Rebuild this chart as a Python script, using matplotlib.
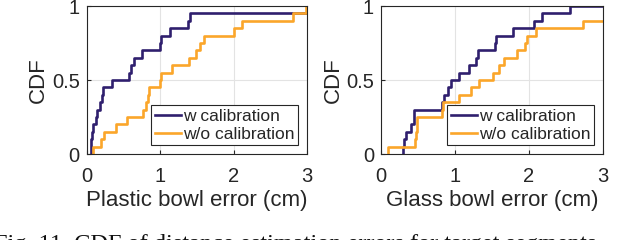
import numpy as np
import matplotlib
matplotlib.use("Agg")
import matplotlib.pyplot as plt

# Sorted error samples (cm); values > 3 lie beyond the visible axis range
plastic_w = [0.055, 0.06, 0.07, 0.09, 0.12, 0.14, 0.18, 0.21, 0.22, 0.34,
             0.57, 0.60, 0.64, 0.75, 1.00, 1.01, 1.14, 1.38, 1.40, 3.3]
plastic_wo = [0.09, 0.20, 0.24, 0.40, 0.55, 0.76, 0.81, 0.83, 0.85, 1.00,
              1.01, 1.16, 1.39, 1.49, 1.54, 1.60, 2.00, 2.12, 2.81, 2.99]
glass_w = [0.30, 0.31, 0.34, 0.41, 0.45, 0.45, 0.83, 0.85, 0.90, 0.94,
           1.06, 1.19, 1.29, 1.31, 1.54, 1.56, 1.79, 2.07, 2.18, 2.55]
glass_wo = [0.10, 0.46, 0.47, 0.48, 0.49, 0.83, 0.84, 1.05, 1.22, 1.33,
            1.52, 1.60, 1.66, 1.84, 1.95, 1.97, 2.10, 2.73, 3.3, 3.4]

xlabels = ["Plastic bowl error (cm)", "Glass bowl error (cm)"]
series_names = ["w calibration", "w/o calibration"]
xticks = [0, 1, 2, 3]
yticks = [0, 0.5, 1]
yticklabels = ["0", "0.5", "1"]

purple = "#2f1f6e"
orange = "#fba62a"

plt.rcParams['font.family'] = ['Liberation Sans', 'DejaVu Sans']

fig = plt.figure(figsize=(6.4, 2.4), dpi=100)
W, H = 640, 240
axes_px = [(86.7, 307), (381, 603)]
top, bottom = 6, 154

def cdf_xy(vals):
    v = np.sort(np.asarray(vals, float))
    n = len(v)
    x = np.concatenate([[v[0]], v, [v[-1] + 5]])
    y = np.concatenate([[0], np.arange(1, n + 1) / n, [1]])
    return x, y

data = [(plastic_w, plastic_wo), (glass_w, glass_wo)]
for i, ((l, r), (dw, dwo)) in enumerate(zip(axes_px, data)):
    ax = fig.add_axes([l / W, 1 - bottom / H, (r - l) / W, (bottom - top) / H])
    for vals, c, name in [(dw, purple, series_names[0]), (dwo, orange, series_names[1])]:
        x, y = cdf_xy(vals)
        ax.step(x, y, where='post', color=c, lw=1.9, label=name)
    ax.set_xlim(0, 3)
    ax.set_ylim(0, 1)
    ax.set_xticks(xticks)
    ax.set_yticks(yticks)
    ax.set_yticklabels(yticklabels)
    ax.grid(True, color='#e3e3e3', lw=0.8)
    ax.set_axisbelow(True)
    for s in ax.spines.values():
        s.set_color('#262626')
        s.set_linewidth(0.8)
    ax.tick_params(labelsize=14.5, length=3, width=0.8, direction='in',
                   colors='#262626', labelcolor='#262626',
                   top=False, right=False)
    ax.tick_params(axis='x', pad=9)
    ax.tick_params(axis='y', pad=5)
    ax.set_xlabel(xlabels[i], fontsize=16, color='#262626', labelpad=3)
    ax.set_ylabel("CDF", fontsize=16, color='#262626', labelpad=2)
    leg = ax.legend(loc='lower right', fontsize=12.5, frameon=True, fancybox=False,
                    edgecolor='#262626', framealpha=1, handlelength=1.5,
                    handletextpad=0.15, borderpad=0.2, labelspacing=0.15,
                    borderaxespad=0.5)
    leg.get_frame().set_linewidth(0.8)
    for t in leg.get_texts():
        t.set_color('#262626')

fig.text(-6 / W, 1 - 250 / H, "Fig. 11. CDF of distance estimation errors for target segments",
         fontsize=17.5, family=['Liberation Serif', 'DejaVu Serif'], color='#111111',
         ha='left', va='baseline')

fig.savefig("out.png", dpi=100)
